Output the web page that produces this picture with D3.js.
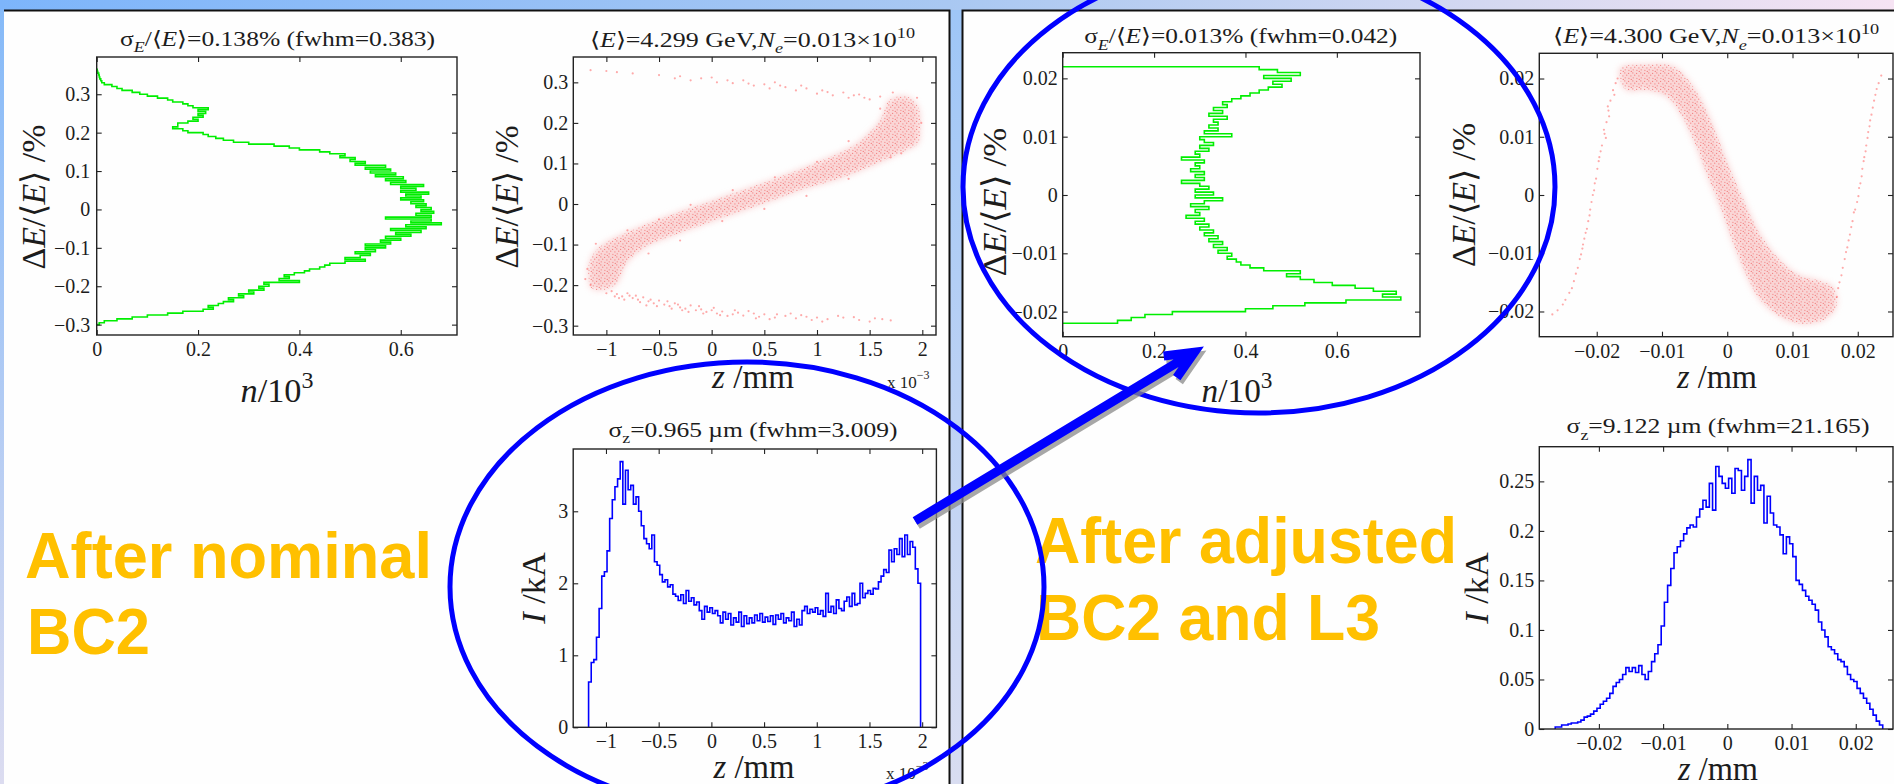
<!DOCTYPE html>
<html>
<head>
<meta charset="utf-8">
<script src="https://cdn.jsdelivr.net/npm/d3@7"></script>
<style>
  body { margin: 0; overflow: hidden; background: #fff; }
  svg { display: block; }
  .ax text { font-family: "Liberation Serif", "Times New Roman", serif; font-size: 20px; fill: #1c1c1c; }
  .ax line { stroke: #222; stroke-width: 1.1px; }
  .lab { font-family: "Liberation Serif", "Times New Roman", serif; fill: #1c1c1c; }
  .note { font-family: "Liberation Sans", Arial, sans-serif; font-weight: bold; font-size: 64px; fill: #ffc000; }
</style>
</head>
<body>
<script>
var W = 1894, H = 784;

// ---------- values ----------

// energy spread histograms, n/10^3 per bin of dE/<E> (in %)
var spreadNomStart = -0.300, spreadNomStep = 0.005;
var spreadNom = [0.005,0.015,0.04,0.07,0.10,0.14,0.17,0.21,0.23,0.22,
	0.24,0.25,0.27,0.26,0.29,0.28,0.31,0.30,0.33,0.32,
	0.34,0.33,0.40,0.36,0.38,0.37,0.39,0.41,0.42,0.44,
	0.45,0.46,0.49,0.53,0.49,0.52,0.54,0.51,0.55,0.53,
	0.57,0.53,0.58,0.56,0.60,0.57,0.62,0.59,0.64,0.58,
	0.65,0.61,0.68,0.62,0.66,0.57,0.66,0.63,0.665,0.64,
	0.66,0.63,0.65,0.62,0.645,0.60,0.64,0.61,0.655,0.60,
	0.63,0.60,0.645,0.58,0.61,0.57,0.605,0.55,0.59,0.54,
	0.58,0.53,0.57,0.51,0.53,0.50,0.51,0.48,0.49,0.46,
	0.44,0.40,0.38,0.35,0.30,0.27,0.25,0.235,0.22,0.21,
	0.18,0.17,0.15,0.16,0.16,0.18,0.20,0.19,0.21,0.20,
	0.215,0.20,0.22,0.19,0.18,0.17,0.15,0.14,0.12,0.10,
	0.085,0.07,0.05,0.04,0.03,0.015,0.01,0.008,0.006,0.005,
	0.004,0.002,0.001];

var spreadAdjStart = -0.022, spreadAdjStep = 0.0005;
var spreadAdj = [0.12,0.15,0.18,0.24,0.40,0.46,0.53,0.62,0.74,0.70,
	0.73,0.68,0.64,0.59,0.55,0.52,0.49,0.52,0.44,0.41,
	0.39,0.38,0.36,0.37,0.34,0.36,0.33,0.35,0.32,0.34,
	0.31,0.33,0.30,0.32,0.29,0.31,0.27,0.30,0.29,0.32,
	0.28,0.31,0.35,0.29,0.33,0.29,0.32,0.30,0.26,0.31,
	0.29,0.31,0.28,0.30,0.29,0.31,0.26,0.30,0.29,0.32,
	0.30,0.33,0.31,0.30,0.37,0.31,0.34,0.32,0.34,0.33,
	0.36,0.32,0.35,0.33,0.36,0.35,0.37,0.39,0.41,0.43,
	0.45,0.48,0.46,0.50,0.44,0.52,0.47,0.43];

// current profiles, I in kA per z bin
var currNomStart = -1.165, currNomStep = 0.025;   // z in units of 1e-3 mm
var currNom = [0.63,0.90,0.94,1.25,1.65,2.10,2.16,2.45,2.90,3.16,
	3.34,3.45,3.69,3.10,3.57,3.30,3.36,3.10,3.20,3.00,
	2.80,2.62,2.55,2.48,2.67,2.30,2.25,2.12,2.02,2.05,
	1.95,1.98,1.85,1.82,1.76,1.84,1.72,1.90,1.75,1.80,
	1.70,1.74,1.62,1.50,1.68,1.60,1.66,1.58,1.62,1.55,
	1.45,1.60,1.50,1.58,1.42,1.52,1.46,1.60,1.40,1.55,
	1.44,1.52,1.45,1.56,1.48,1.58,1.46,1.53,1.47,1.55,
	1.43,1.56,1.50,1.58,1.45,1.52,1.48,1.60,1.40,1.50,
	1.42,1.62,1.68,1.58,1.64,1.60,1.66,1.57,1.62,1.54,
	1.86,1.60,1.68,1.58,1.77,1.65,1.62,1.75,1.81,1.68,
	1.86,1.70,1.72,2.00,1.80,1.86,1.90,1.85,1.93,1.92,
	2.02,2.10,2.19,2.15,2.46,2.30,2.48,2.40,2.62,2.37,
	2.67,2.40,2.58,2.50,2.20,2.00];

var currAdjStart = -0.0268, currAdjStep = 0.0005;  // z in mm
var currAdj = [0.002,0.002,0.004,0.004,0.005,0.006,0.006,0.007,0.009,0.012,
	0.013,0.015,0.018,0.021,0.025,0.028,0.031,0.036,0.043,0.047,
	0.050,0.055,0.062,0.058,0.062,0.057,0.064,0.055,0.050,0.058,
	0.068,0.076,0.085,0.104,0.128,0.145,0.162,0.178,0.184,0.190,
	0.197,0.203,0.206,0.204,0.214,0.222,0.231,0.224,0.248,0.221,
	0.265,0.255,0.248,0.243,0.253,0.238,0.263,0.261,0.241,0.255,
	0.272,0.228,0.255,0.241,0.246,0.208,0.235,0.218,0.206,0.204,
	0.196,0.177,0.194,0.187,0.174,0.150,0.146,0.140,0.134,0.130,
	0.126,0.120,0.108,0.100,0.093,0.083,0.080,0.076,0.070,0.068,
	0.063,0.055,0.050,0.048,0.041,0.036,0.031,0.026,0.020,0.014,
	0.008,0.004];

// longitudinal phase space [z, dE/<E>]: outline of the dense core + sparse particles
var phaseNomCore = [[-1.17,-0.18],[-1.155,-0.138],[-1.06,-0.105],[-0.90,-0.081],[-0.68,-0.056],
	[-0.43,-0.031],[-0.17,-0.007],[0.11,0.018],[0.43,0.047],[0.74,0.076],[1.06,0.109],
	[1.38,0.15],[1.60,0.207],[1.69,0.257],[1.85,0.265],[1.96,0.24],[1.98,0.19],[1.96,0.15],
	[1.85,0.133],[1.54,0.096],[1.22,0.063],[0.90,0.039],[0.59,0.01],[0.27,-0.019],
	[-0.05,-0.048],[-0.36,-0.077],[-0.62,-0.105],[-0.81,-0.147],[-0.90,-0.196],
	[-1.03,-0.212],[-1.14,-0.208]];
var phaseNomSparse = [
	[-0.95,-0.215],[-0.9,-0.222],[-0.85,-0.228],[-0.8,-0.22],[-0.75,-0.232],[-0.7,-0.236],
	[-0.65,-0.23],[-0.6,-0.24],[-0.55,-0.245],[-0.5,-0.238],[-0.45,-0.248],[-0.4,-0.252],
	[-0.35,-0.245],[-0.3,-0.255],[-0.25,-0.258],[-0.2,-0.25],[-0.15,-0.262],[-0.1,-0.26],
	[-0.05,-0.266],[0,-0.262],[0.05,-0.27],[0.1,-0.265],[0.2,-0.272],[0.25,-0.268],
	[0.3,-0.275],[0.4,-0.27],[0.45,-0.278],[0.5,-0.272],[0.6,-0.28],[0.7,-0.276],
	[0.8,-0.282],[0.9,-0.278],[1.0,-0.28],[1.1,-0.284],[1.25,-0.28],[1.4,-0.286],
	[1.55,-0.282],[1.7,-0.287],[-0.88,-0.232],[-0.72,-0.226],[-0.62,-0.25],[-0.42,-0.24],
	[-0.28,-0.262],[-0.12,-0.252],[0.15,-0.276],[0.35,-0.264],[0.55,-0.284],[0.75,-0.27],
	[0.95,-0.286],[1.2,-0.276],[1.5,-0.29],
	[-0.92,-0.228],[-0.83,-0.236],[-0.78,-0.226],[-0.68,-0.242],[-0.58,-0.236],[-0.52,-0.252],
	[-0.38,-0.258],[-0.32,-0.248],[-0.22,-0.266],[-0.08,-0.27],[0.02,-0.256],[0.08,-0.274],
	[0.22,-0.262],[0.42,-0.282],[0.62,-0.272],[0.85,-0.274],[1.05,-0.29],[1.35,-0.279],
	[1.62,-0.284],
	[-1.15,0.33],[-1.0,0.328],[-0.9,0.325],[-0.75,0.322],[-0.5,0.318],[-0.35,0.31],
	[-0.3,0.315],[-0.2,0.305],[-0.1,0.31],[0,0.312],[0.05,0.3],[0.15,0.305],[0.2,0.298],
	[0.3,0.305],[0.4,0.292],[0.5,0.295],[0.55,0.285],[0.65,0.292],[0.7,0.288],[0.8,0.28],
	[0.9,0.285],[1.0,0.272],[1.05,0.28],[1.15,0.268],[1.25,0.275],[1.3,0.262],[1.4,0.27],
	[1.5,0.258],[1.6,0.265],[0.85,0.292],[0.6,0.3],[0.35,0.297],[1.1,0.276],[1.35,0.268],
	[1.45,0.262],
	[-0.8,-0.065],[-0.5,-0.038],[-0.2,-0.002],[0.2,0.034],[0.6,0.066],[1.0,0.104],
	[1.3,0.155],[-0.6,-0.122],[-0.3,-0.09],[0.1,-0.042],[0.5,-0.012],[0.9,0.02],
	[1.3,0.062],[1.7,0.115],[1.6,0.235],[1.72,0.275],[1.95,0.262],[1.99,0.2],[1.8,0.125],
	[-1.18,-0.16],[-1.15,-0.2],[-1.1,-0.098],[-1.2,-0.185],[-1.0,-0.22]];

var phaseAdjCore = [[-0.0164,0.0218],[-0.0123,0.0224],[-0.0083,0.0221],[-0.0052,0.0186],
	[-0.0032,0.0146],[-0.0011,0.0089],[0.0009,0.0032],[0.003,-0.002],[0.005,-0.0066],
	[0.0076,-0.0106],[0.0106,-0.0135],[0.0137,-0.0146],[0.0162,-0.0158],[0.0167,-0.0192],
	[0.0147,-0.0215],[0.0111,-0.0221],[0.0081,-0.0209],[0.005,-0.018],[0.003,-0.014],
	[0.0009,-0.0083],[-0.0011,-0.002],[-0.0032,0.0037],[-0.0052,0.0095],[-0.0072,0.014],
	[-0.0093,0.0169],[-0.0123,0.018],[-0.0154,0.018],[-0.0164,0.0198]];
var phaseAdjSparse = [
	[-0.0168,0.020],[-0.0175,0.018],[-0.0179,0.0162],[-0.0182,0.0145],[-0.0185,0.0125],
	[-0.0188,0.0105],[-0.0192,0.0085],[-0.0196,0.0065],[-0.0199,0.0045],[-0.0203,0.002],
	[-0.0206,0.0],[-0.021,-0.0025],[-0.0213,-0.0045],[-0.0217,-0.0065],[-0.0221,-0.0085],
	[-0.0226,-0.011],[-0.0232,-0.0135],[-0.0238,-0.016],[-0.0248,-0.018],[-0.026,-0.0198],
	[-0.0268,-0.0205],[-0.0171,0.0192],[-0.0183,0.0152],[-0.0189,0.0112],[-0.0197,0.0058],
	[-0.0201,0.0028],[-0.0208,-0.0012],[-0.0215,-0.0058],[-0.0222,-0.0092],[-0.0229,-0.0125],
	[-0.0242,-0.0168],
	[-0.0173,0.0172],[-0.0181,0.0135],[-0.0186,0.0098],[-0.0194,0.0075],[-0.0204,0.0008],
	[-0.0211,-0.0035],[-0.0219,-0.0075],[-0.0224,-0.0102],[-0.0235,-0.0148],[-0.0252,-0.0188],
	[0.0168,-0.0175],[0.0172,-0.015],[0.0177,-0.0125],[0.018,-0.011],[0.0184,-0.009],
	[0.0188,-0.0068],[0.0192,-0.0045],[0.0196,-0.0025],[0.0201,-0.0002],[0.0204,0.002],
	[0.0207,0.0045],[0.021,0.0065],[0.0213,0.0085],[0.0216,0.0108],[0.0219,0.0128],
	[0.0223,0.015],[0.0227,0.0172],[0.0232,0.0192],[0.0236,0.0205],[0.0175,-0.0138],
	[0.0186,-0.0078],[0.0194,-0.003],[0.0202,0.0012],[0.0209,0.0058],[0.0215,0.0098],
	[0.0221,0.0138],[0.0229,0.0182],
	[0.0170,-0.016],[0.0182,-0.0098],[0.019,-0.0055],[0.0199,-0.0012],[0.0206,0.0032],
	[0.0212,0.0075],[0.0218,0.0118],[0.0225,0.0162]];

// tick values
var ticksN = [0, 0.2, 0.4, 0.6];
var ticksSpreadNom = [-0.3, -0.2, -0.1, 0, 0.1, 0.2, 0.3];
var ticksSpreadAdj = [-0.02, -0.01, 0, 0.01, 0.02];
var ticksZNom = [-1, -0.5, 0, 0.5, 1, 1.5, 2];
var ticksZAdj = [-0.02, -0.01, 0, 0.01, 0.02];
var ticksINom = [0, 1, 2, 3];
var ticksIAdj = [0, 0.05, 0.1, 0.15, 0.2, 0.25];

// titles and labels, as [text, style] pieces
var titleSpreadNom = [["σ"], ["E", "subi"], ["/⟨"], ["E", "i"], ["⟩=0.138% (fwhm=0.383)"]];
var titlePhaseNom = [["⟨"], ["E", "i"], ["⟩=4.299 GeV,"], ["N", "i"], ["e", "subi"], ["=0.013×10"], ["10", "sup"]];
var titleCurrNom = [["σ"], ["z", "sub"], ["=0.965 µm (fwhm=3.009)"]];
var titleSpreadAdj = [["σ"], ["E", "subi"], ["/⟨"], ["E", "i"], ["⟩=0.013% (fwhm=0.042)"]];
var titlePhaseAdj = [["⟨"], ["E", "i"], ["⟩=4.300 GeV,"], ["N", "i"], ["e", "subi"], ["=0.013×10"], ["10", "sup"]];
var titleCurrAdj = [["σ"], ["z", "sub"], ["=9.122 µm (fwhm=21.165)"]];
var labelDE = [["Δ"], ["E", "i"], ["/⟨"], ["E", "i"], ["⟩ /%"]];
var labelI = [["I", "i"], [" /kA"]];
var labelN = [["n", "i"], ["/10"], ["3", "sup"]];
var labelZ = [["z", "i"], [" /mm"]];

// ---------- page ----------
var svg = d3.select("body").append("svg").attr("width", W).attr("height", H);
var defs = svg.append("defs");

function gradient(id, vertical, stops) {
	var g = defs.append("linearGradient").attr("id", id)
		.attr("x1", 0).attr("y1", 0)
		.attr("x2", vertical ? 0 : 1).attr("y2", vertical ? 1 : 0);
	stops.forEach(function(s) {
		g.append("stop").attr("offset", s[0]).attr("stop-color", s[1]);
	});
}
gradient("bandTop", false, [[0, "#7db5fb"], [0.5, "#a9c8f2"], [0.8, "#d6d9f1"], [1, "#f6e3f3"]]);
gradient("bandSide", true, [[0, "#9ec6f7"], [1, "#d9ddf1"]]);
gradient("bandLeft", true, [[0, "#86baf8"], [1, "#dcdcf0"]]);

defs.append("filter").attr("id", "soft")
	.attr("x", "-10%").attr("y", "-10%").attr("width", "120%").attr("height", "120%")
	.append("feGaussianBlur").attr("stdDeviation", 3);

// speckle used to fill the dense part of the particle clouds
var speck = defs.append("pattern").attr("id", "speck")
	.attr("width", 8).attr("height", 8).attr("patternUnits", "userSpaceOnUse");
[[0.8, 0.9], [4.6, 1.4], [2.7, 3.2], [6.9, 3.9], [1.2, 5.8], [4.9, 6.3], [7.3, 7.4]].forEach(function(p) {
	speck.append("circle").attr("cx", p[0]).attr("cy", p[1]).attr("r", 0.65)
		.attr("fill", "#ec4c4c").attr("opacity", 0.6);
});

// slide background and the two framed halves
svg.append("rect").attr("width", W).attr("height", H).attr("fill", "#e0e2f2");
svg.append("rect").attr("width", W).attr("height", 10).attr("fill", "url(#bandTop)");
svg.append("rect").attr("y", 10).attr("width", 4).attr("height", H - 10).attr("fill", "url(#bandLeft)");
svg.append("rect").attr("x", 949).attr("y", 10).attr("width", 13).attr("height", H - 10).attr("fill", "url(#bandSide)");
svg.append("rect").attr("x", 4).attr("y", 10).attr("width", 945).attr("height", H - 10).attr("fill", "#fefefe");
svg.append("rect").attr("x", 963).attr("y", 10).attr("width", W - 963).attr("height", H - 10).attr("fill", "#fefefe");
svg.append("path").attr("fill", "none").attr("stroke", "#111").attr("stroke-width", 2)
	.attr("d", "M4,10.5H949.5V" + H + "M962.5," + H + "V10.5H" + W);

// ---------- helpers ----------
var clipCount = 0;

function makeAxes(p) {
	var g = svg.append("g");
	var x = d3.scaleLinear().domain(p.xDom).range([p.left, p.right]);
	var y = d3.scaleLinear().domain(p.yDom).range([p.bottom, p.top]);
	var fmt = d3.format("~g");

	var id = "clip" + (clipCount++);
	defs.append("clipPath").attr("id", id).append("rect")
		.attr("x", p.left).attr("y", p.top)
		.attr("width", p.right - p.left).attr("height", p.bottom - p.top);
	var plot = g.append("g").attr("clip-path", "url(#" + id + ")");

	g.append("g").attr("class", "ax").attr("transform", "translate(0," + p.bottom + ")")
		.call(d3.axisBottom(x).tickValues(p.xt).tickFormat(fmt).tickSize(-5).tickSizeOuter(0).tickPadding(7));
	g.append("g").attr("class", "ax").attr("transform", "translate(0," + p.top + ")")
		.call(d3.axisTop(x).tickValues(p.xt).tickFormat("").tickSize(-5).tickSizeOuter(0));
	g.append("g").attr("class", "ax").attr("transform", "translate(" + p.left + ",0)")
		.call(d3.axisLeft(y).tickValues(p.yt).tickFormat(fmt).tickSize(-5).tickSizeOuter(0).tickPadding(p.ypad || 5));
	g.append("g").attr("class", "ax").attr("transform", "translate(" + p.right + ",0)")
		.call(d3.axisRight(y).tickValues(p.yt).tickFormat("").tickSize(-5).tickSizeOuter(0));
	g.selectAll(".domain").remove();

	g.append("rect")
		.attr("x", p.left).attr("y", p.top)
		.attr("width", p.right - p.left).attr("height", p.bottom - p.top)
		.attr("fill", "none").attr("stroke", "#222").attr("stroke-width", 1.4);

	return {x: x, y: y, g: g, plot: plot};
}

// text made of pieces with italic / sub / sup, squeezed or stretched to a width
function rich(parent, segs, size, width, transform) {
	var t = parent.append("text").attr("class", "lab")
		.attr("font-size", size).attr("text-anchor", "middle");
	var shift = 0;
	segs.forEach(function(s) {
		var kind = s[1] || "";
		var target = 0, fs = size;
		if (kind.indexOf("sub") === 0) { target = size * 0.33; fs = size * 0.7; }
		if (kind === "sup") { target = -size * 0.42; fs = size * 0.7; }
		var ts = t.append("tspan").text(s[0]).attr("font-size", fs);
		if (kind === "i" || kind === "subi") ts.attr("font-style", "italic");
		if (target !== shift) { ts.attr("dy", target - shift); shift = target; }
	});
	var w = t.node().getBBox().width;
	var sx = w > 0 ? width / w : 1;
	t.attr("transform", transform + " scale(" + sx + ",1)");
	return t;
}

function labels(ax, L) {
	rich(ax.g, L.title, 21, L.title_w, "translate(" + L.title_x + "," + L.title_y + ")");
	rich(ax.g, L.ylab, 34, L.ylab_w, "translate(" + L.ylab_x + "," + L.ylab_y + ") rotate(-90)");
	rich(ax.g, L.xlab, 34, L.xlab_w, "translate(" + L.xlab_x + "," + L.xlab_y + ")");
	if (L.exp_x) {
		var e = ax.g.append("text").attr("class", "lab").attr("font-size", 17)
			.attr("x", L.exp_x).attr("y", L.exp_y).text("x 10");
		e.append("tspan").attr("font-size", 12).attr("dy", -9).text("−3");
	}
}

// vertical step line: counts against energy bins
function spreadLine(ax, counts, start, step) {
	var pts = [[0, start]];
	counts.forEach(function(v, i) {
		pts.push([v, start + i * step]);
		pts.push([v, start + (i + 1) * step]);
	});
	pts.push([0, start + counts.length * step]);
	ax.plot.append("path")
		.attr("fill", "none").attr("stroke", "#00ee00").attr("stroke-width", 1.6)
		.attr("d", d3.line().x(function(d) { return ax.x(d[0]); }).y(function(d) { return ax.y(d[1]); })(pts));
}

// horizontal step line: current against z bins
function currentLine(ax, values, start, step) {
	var pts = [[start, 0]];
	values.forEach(function(v, i) {
		pts.push([start + i * step, v]);
		pts.push([start + (i + 1) * step, v]);
	});
	pts.push([start + values.length * step, 0]);
	ax.plot.append("path")
		.attr("fill", "none").attr("stroke", "#0000ff").attr("stroke-width", 1.6)
		.attr("d", d3.line().x(function(d) { return ax.x(d[0]); }).y(function(d) { return ax.y(d[1]); })(pts));
}

function phaseCloud(ax, core, sparse) {
	var outline = d3.line()
		.x(function(d) { return ax.x(d[0]); })
		.y(function(d) { return ax.y(d[1]); })
		.curve(d3.curveCatmullRomClosed.alpha(0.5))(core);
	ax.plot.append("path").attr("d", outline)
		.attr("fill", "#f9cccc").attr("opacity", 0.8).attr("filter", "url(#soft)");
	ax.plot.append("path").attr("d", outline).attr("fill", "url(#speck)");
	ax.plot.selectAll("circle.pt").data(sparse).enter()
		.append("circle").attr("class", "pt")
		.attr("cx", function(d) { return ax.x(d[0]); })
		.attr("cy", function(d) { return ax.y(d[1]); })
		.attr("r", 1.1).attr("fill", "#f44").attr("opacity", 0.45);
}

// ---------- left half: after nominal BC2 ----------
var axSN = makeAxes({left: 96.7, right: 457, top: 57, bottom: 335,
	xDom: [0, 0.711], yDom: [-0.327, 0.397], xt: ticksN, yt: ticksSpreadNom, ypad: 6.5});
spreadLine(axSN, spreadNom, spreadNomStart, spreadNomStep);
labels(axSN, {title: titleSpreadNom, title_x: 277.5, title_y: 45.5, title_w: 315,
	ylab: labelDE, ylab_x: 45, ylab_y: 197, ylab_w: 145,
	xlab: labelN, xlab_x: 277, xlab_y: 402, xlab_w: 73});

var axPN = makeAxes({left: 573.3, right: 936, top: 57, bottom: 335,
	xDom: [-1.314, 2.13], yDom: [-0.323, 0.3625], xt: ticksZNom, yt: ticksSpreadNom});
phaseCloud(axPN, phaseNomCore, phaseNomSparse);
labels(axPN, {title: titlePhaseNom, title_x: 752.5, title_y: 46.5, title_w: 325,
	ylab: labelDE, ylab_x: 518, ylab_y: 197, ylab_w: 143,
	xlab: labelZ, xlab_x: 753, xlab_y: 388, xlab_w: 83, exp_x: 887, exp_y: 388});

var axCN = makeAxes({left: 573.2, right: 936.4, top: 449, bottom: 727.3,
	xDom: [-1.311, 2.135], yDom: [0, 3.865], xt: ticksZNom, yt: ticksINom});
currentLine(axCN, currNom, currNomStart, currNomStep);
labels(axCN, {title: titleCurrNom, title_x: 753, title_y: 436.5, title_w: 289,
	ylab: labelI, ylab_x: 545, ylab_y: 588, ylab_w: 73,
	xlab: labelZ, xlab_x: 754, xlab_y: 778, xlab_w: 82, exp_x: 886, exp_y: 779});

// ---------- right half: after adjusted BC2 and L3 ----------
var axSA = makeAxes({left: 1062.7, right: 1420, top: 52.7, bottom: 336.7,
	xDom: [0, 0.782], yDom: [-0.0243, 0.0244], xt: ticksN, yt: ticksSpreadAdj});
spreadLine(axSA, spreadAdj, spreadAdjStart, spreadAdjStep);
labels(axSA, {title: titleSpreadAdj, title_x: 1240.7, title_y: 43.3, title_w: 313,
	ylab: labelDE, ylab_x: 1006, ylab_y: 202, ylab_w: 149,
	xlab: labelN, xlab_x: 1237, xlab_y: 402, xlab_w: 71});

var axPA = makeAxes({left: 1539.3, right: 1893, top: 53.3, bottom: 336.7,
	xDom: [-0.0288, 0.0254], yDom: [-0.02433, 0.02433], xt: ticksZAdj, yt: ticksSpreadAdj});
phaseCloud(axPA, phaseAdjCore, phaseAdjSparse);
labels(axPA, {title: titlePhaseAdj, title_x: 1716.3, title_y: 43.3, title_w: 326,
	ylab: labelDE, ylab_x: 1475, ylab_y: 195, ylab_w: 144,
	xlab: labelZ, xlab_x: 1717, xlab_y: 388, xlab_w: 81});

var axCA = makeAxes({left: 1539.3, right: 1893, top: 446.7, bottom: 729,
	xDom: [-0.02928, 0.0258], yDom: [0, 0.285], xt: ticksZAdj, yt: ticksIAdj});
currentLine(axCA, currAdj, currAdjStart, currAdjStep);
labels(axCA, {title: titleCurrAdj, title_x: 1718, title_y: 433.3, title_w: 303,
	ylab: labelI, ylab_x: 1488, ylab_y: 588, ylab_w: 73,
	xlab: labelZ, xlab_x: 1718, xlab_y: 780, xlab_w: 81});

// ---------- annotations ----------
var notes = svg.append("g").attr("class", "note");
[["After nominal", 25, 578, 407], ["BC2", 27, 654, 123],
 ["After adjusted", 1035, 563, 422], ["BC2 and L3", 1036, 640, 344]].forEach(function(n) {
	notes.append("text").attr("x", n[1]).attr("y", n[2])
		.attr("textLength", n[3]).attr("lengthAdjust", "spacingAndGlyphs").text(n[0]);
});

svg.append("ellipse").attr("cx", 747).attr("cy", 587).attr("rx", 297).attr("ry", 225)
	.attr("fill", "none").attr("stroke", "#0000ff").attr("stroke-width", 5);
svg.append("ellipse").attr("cx", 1259).attr("cy", 187).attr("rx", 296).attr("ry", 226)
	.attr("fill", "none").attr("stroke", "#0000ff").attr("stroke-width", 5);

// arrow from the current profile to the adjusted energy spread
function arrowPath(x0, y0, x1, y1, back, len, ang) {
	var a = Math.atan2(y1 - y0, x1 - x0);
	var vx = x1 - back * Math.cos(a), vy = y1 - back * Math.sin(a);
	var a1 = a + Math.PI - ang, a2 = a + Math.PI + ang;
	return "M" + x0 + "," + y0 + "L" + vx + "," + vy +
		"M" + (vx + len * Math.cos(a1)) + "," + (vy + len * Math.sin(a1)) +
		"L" + vx + "," + vy +
		"L" + (vx + len * Math.cos(a2)) + "," + (vy + len * Math.sin(a2));
}
var arrowD = arrowPath(915, 521, 1203, 347, 10, 31, 24 * Math.PI / 180);
svg.append("path").attr("d", arrowD).attr("transform", "translate(2.5,4)")
	.attr("fill", "none").attr("stroke", "#8a8a8a").attr("stroke-width", 9)
	.attr("stroke-linejoin", "miter").attr("opacity", 0.75);
svg.append("path").attr("d", arrowD)
	.attr("fill", "none").attr("stroke", "#0000ff").attr("stroke-width", 9)
	.attr("stroke-linejoin", "miter");
</script>
</body>
</html>
